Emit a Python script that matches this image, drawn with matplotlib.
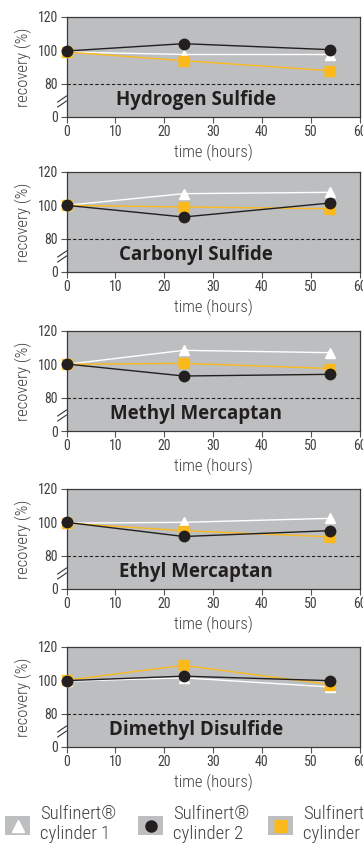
import numpy as np
import matplotlib
matplotlib.use("Agg")
import matplotlib.pyplot as plt
from matplotlib import font_manager
from matplotlib.lines import Line2D
from matplotlib.patches import Rectangle

available = {f.name for f in font_manager.fontManager.ttflist}


def pick(cands):
    for c in cands:
        if c in available:
            return [c, 'DejaVu Sans']
    return ['DejaVu Sans']


COND = pick(['Roboto Condensed', 'Liberation Sans Narrow', 'PT Sans Narrow',
             'Archivo Narrow'])
BOLD = pick(['Open Sans'])
plt.rcParams['font.family'] = COND

hours = [0, 24, 54]
compounds = ["Hydrogen Sulfide", "Carbonyl Sulfide", "Methyl Mercaptan",
             "Ethyl Mercaptan", "Dimethyl Disulfide"]
# recovery (%) per compound, for each cylinder
cyl1 = [[99, 97.5, 97.5], [100, 107, 107.8], [100, 108.4, 107],
        [99.5, 100, 102.4], [99.5, 101.5, 96]]
cyl2 = [[99.6, 104, 100.4], [100, 93, 101.4], [100.2, 93, 94],
        [100, 91.5, 95], [99.8, 102.5, 99.8]]
cyl3 = [[99, 93.8, 87.8], [100, 99, 98], [100, 100.6, 97.5],
        [99.5, 95, 91.3], [100, 109, 97.5]]
yticks = [0, 80, 100, 120]
xticks = [0, 10, 20, 30, 40, 50, 60]

GRAY = '#bcbec0'
DARK = '#231f20'
YELLOW = '#fcb91c'
TXT = '#404040'


# broken y axis: 0-80 squeezed into a quarter
def fwd(y):
    y = np.asarray(y, dtype=float)
    return np.where(y >= 80, y, 60 + y * 0.25)


def inv(t):
    t = np.asarray(t, dtype=float)
    return np.where(t >= 80, t, (t - 60) * 4)


W, H = 363, 848
fig = plt.figure(figsize=(W / 100, H / 100), dpi=100)

tops = [17, 172, 331, 489, 647]
left, right = 66.5, 359.5
ph = 100

for i, name in enumerate(compounds):
    ax = fig.add_axes([left / W, 1 - (tops[i] + ph) / H, (right - left) / W, ph / H])
    ax.set_facecolor(GRAY)
    ax.set_yscale('function', functions=(fwd, inv))
    ax.set_ylim(0, 120)
    ax.set_xlim(0, 60)
    ax.set_yticks(yticks)
    ax.set_xticks(xticks)
    ax.tick_params(direction='out', length=4, width=0.8, color='#555555',
                   labelsize=10, labelcolor=TXT, pad=2)
    for s in ax.spines.values():
        s.set_color('#3a3a3a')
        s.set_linewidth(0.9)
    ax.axhline(80, color=DARK, lw=0.8, ls=(0, (3, 2)), zorder=2)

    ax.plot(hours, cyl1[i], color='white', lw=1, marker='^', ms=7.5,
            mec='white', mfc='white', zorder=3, clip_on=False)
    ax.plot(hours, cyl3[i], color=YELLOW, lw=1, marker='s', ms=7,
            mec=YELLOW, mfc=YELLOW, zorder=4, clip_on=False)
    ax.plot(hours, cyl2[i], color=DARK, lw=1, marker='o', ms=7.5,
            mec=DARK, mfc=DARK, zorder=5, clip_on=False)

    ax.text(26.5, 40, name, ha='center', va='center', fontsize=13.5,
            fontweight='bold', family=BOLD, color=DARK)

    # axis break marks
    for dy in (0.0, 0.05):
        ax.plot([-0.03, 0.0], [0.10 + dy, 0.16 + dy], transform=ax.transAxes,
                color='#333333', lw=0.8, clip_on=False)

    ax.set_ylabel('recovery (%)', fontsize=12, color=TXT, labelpad=4,
                  fontweight='light')
    ax.set_xlabel('time (hours)', fontsize=12, color=TXT, labelpad=3,
                  fontweight='light')

# legend
labels = ["Sulfinert®\ncylinder 1", "Sulfinert®\ncylinder 2", "Sulfinert®\ncylinder 3"]
markers = [('^', 'white', 8), ('o', DARK, 8), ('s', YELLOW, 8)]
box_x = [5, 138, 268]
for bx, lab, (m, c, ms) in zip(box_x, labels, markers):
    fig.add_artist(Rectangle((bx / W, 1 - 835 / H), 25 / W, 19 / H,
                             transform=fig.transFigure, color=GRAY, lw=0))
    fig.add_artist(Line2D([(bx + 12.5) / W], [1 - 825.5 / H], marker=m, ms=ms,
                          color=c, mec=c, transform=fig.transFigure))
    fig.text((bx + 35) / W, 1 - 824 / H, lab, fontsize=13.5, color=TXT,
             va='center', ha='left', linespacing=1.1, fontweight='light')

fig.savefig('out.png', dpi=100)
